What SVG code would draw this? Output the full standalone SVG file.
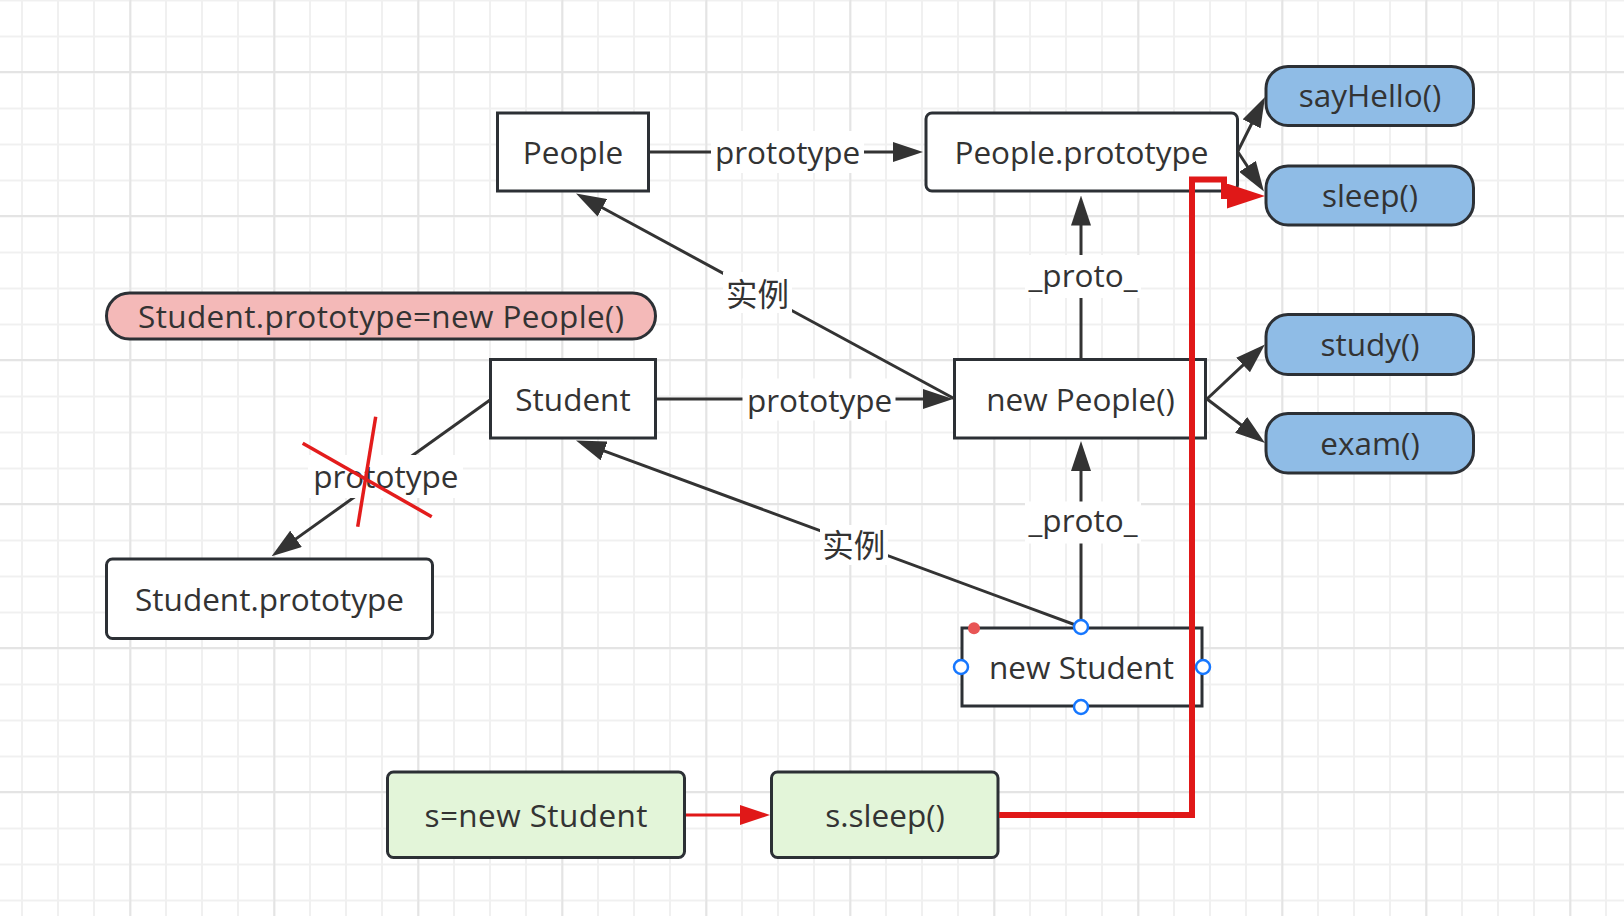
<svg xmlns="http://www.w3.org/2000/svg" width="1624" height="916" viewBox="0 0 1624 916">
<defs>
<pattern id="gridMinor" x="4" y="-17.5" width="36" height="36" patternUnits="userSpaceOnUse">
<rect x="17" y="0" width="2" height="36" fill="#f0f0f0"/>
<rect x="0" y="17" width="36" height="2" fill="#f0f0f0"/>
</pattern>
<pattern id="gridMajor" x="58.4" y="0" width="144" height="144" patternUnits="userSpaceOnUse">
<rect x="71" y="0" width="2" height="144" fill="#e4e4e4"/>
<rect x="0" y="71" width="144" height="2" fill="#e4e4e4"/>
</pattern>
<marker id="arr" markerUnits="userSpaceOnUse" viewBox="0 0 30 20" markerWidth="30" markerHeight="20" refX="1" refY="10" orient="auto">
<path d="M0,0 L30,10 L0,20 z" fill="#333333"/>
</marker>
<marker id="arrRed" markerUnits="userSpaceOnUse" viewBox="0 0 30 20" markerWidth="30" markerHeight="20" refX="1" refY="10" orient="auto">
<path d="M0,0 L30,10 L0,20 z" fill="#e01818"/>
</marker>
<marker id="arrRedBig" markerUnits="userSpaceOnUse" viewBox="0 0 38 25" markerWidth="38" markerHeight="25" refX="1" refY="12.5" orient="auto">
<path d="M0,0 L38,12.5 L0,25 z" fill="#e01818"/>
</marker>
</defs>
<style>
text{font-family:"Open Sans","Noto Sans","Noto Sans CJK SC",sans-serif;font-size:31.5px;fill:#333333;text-anchor:middle}
.box{fill:#ffffff;stroke:#2c3035;stroke-width:3}
.blue{fill:#8fbce6;stroke:#2c3035;stroke-width:3}
.pink{fill:#f4b9b8;stroke:#2c3035;stroke-width:3}
.green{fill:#e3f5d9;stroke:#2c3035;stroke-width:3}
.edge{fill:none;stroke:#333333;stroke-width:3}
.arrow{marker-end:url(#arr)}
.red{fill:none;stroke:#e01818}
.lbl{fill:#ffffff}
.cross{stroke:#e31c1c;stroke-width:3.5}
.handle{fill:#ffffff;stroke:#1677ff;stroke-width:2.5}
</style>
<rect width="1624" height="916" fill="#ffffff"/>
<rect width="1624" height="916" fill="url(#gridMinor)"/>
<rect width="1624" height="916" fill="url(#gridMajor)"/>

<g id="node-people"><rect class="box" x="497.5" y="113" width="151" height="78"/><text x="573" y="164">People</text></g>
<g id="node-people-prototype"><rect class="box" x="926" y="113" width="311.5" height="78" rx="6"/><text x="1081.5" y="163.5">People.prototype</text></g>
<g id="node-sayhello"><rect class="blue" x="1266" y="66.5" width="207.5" height="59" rx="22"/><text x="1370" y="107">sayHello()</text></g>
<g id="node-sleep"><rect class="blue" x="1266" y="166" width="207.5" height="59" rx="22"/><text x="1370" y="207">sleep()</text></g>
<g id="node-study"><rect class="blue" x="1266" y="314.5" width="207.5" height="60" rx="22"/><text x="1370" y="356">study()</text></g>
<g id="node-exam"><rect class="blue" x="1266" y="413.5" width="207.5" height="59.5" rx="22"/><text x="1370" y="455">exam()</text></g>
<g id="node-assign"><rect class="pink" x="106.5" y="293" width="549" height="46" rx="23"/><text x="381" y="328" textLength="486" lengthAdjust="spacing">Student.prototype=new People()</text></g>
<g id="node-student"><rect class="box" x="490.5" y="359.5" width="165" height="78.5"/><text x="573" y="410.5">Student</text></g>
<g id="node-new-people"><rect class="box" x="954.5" y="359.5" width="251" height="78.5"/><text x="1080.5" y="410.5">new People()</text></g>
<g id="node-student-prototype"><rect class="box" x="106.5" y="559" width="326" height="79.5" rx="6"/><text x="269.5" y="610.5">Student.prototype</text></g>
<g id="node-new-student"><rect class="box" x="962" y="628" width="240" height="78"/><text x="1081.5" y="678.5">new Student</text></g>
<g id="node-s-new-student"><rect class="green" x="387.5" y="772" width="297" height="85.5" rx="6"/><text x="536" y="826.5" textLength="223" lengthAdjust="spacing">s=new Student</text></g>
<g id="node-s-sleep"><rect class="green" x="771.5" y="772" width="226.5" height="85.5" rx="6"/><text x="885" y="826.5">s.sleep()</text></g>

<g id="connectors">
<line class="edge arrow" x1="650" y1="152" x2="894" y2="152"/>
<rect class="lbl" x="711" y="131" width="153" height="42"/>
<text x="787.5" y="164">prototype</text>

<line class="edge arrow" x1="657" y1="399" x2="924" y2="399"/>
<rect class="lbl" x="742.5" y="378.5" width="153" height="42"/>
<text x="819.5" y="411.5">prototype</text>

<line class="edge arrow" x1="1081" y1="358.5" x2="1081" y2="224.5"/>
<rect class="lbl" x="1025" y="255" width="116" height="43"/>
<text x="1083" y="287">_proto_</text>

<line class="edge arrow" x1="1081" y1="627" x2="1081" y2="470"/>
<rect class="lbl" x="1025" y="501.5" width="116" height="42"/>
<text x="1083" y="531.5">_proto_</text>

<line class="edge arrow" x1="954" y1="398.5" x2="601.5" y2="207.3"/>
<rect class="lbl" x="723" y="272" width="69" height="41"/>
<text x="757.5" y="306">实例</text>

<line class="edge arrow" x1="1081" y1="627" x2="603.2" y2="450.6"/>
<rect class="lbl" x="820" y="525" width="68" height="40"/>
<text x="853.7" y="557">实例</text>

<line class="edge arrow" x1="490" y1="400" x2="295.2" y2="539.4"/>
<rect class="lbl" x="308" y="455" width="155" height="43"/>
<text x="385.8" y="488.3">prototype</text>
<line class="cross" x1="302.7" y1="443.3" x2="431.7" y2="516.7"/>
<line class="cross" x1="375.7" y1="416.7" x2="357.7" y2="526.7"/>

<line class="edge arrow" x1="1238" y1="151" x2="1252" y2="123"/>
<line class="edge arrow" x1="1238" y1="152" x2="1248" y2="167.2"/>
<line class="edge arrow" x1="1207" y1="399" x2="1243.8" y2="364.3"/>
<line class="edge arrow" x1="1207" y1="399" x2="1241.9" y2="425.5"/>

<line class="red" stroke-width="3" x1="686" y1="815" x2="741" y2="815" marker-end="url(#arrRed)"/>
<path class="red" stroke-width="6" d="M999 815 H1192 V179.5 H1224 V196 H1228" marker-end="url(#arrRedBig)"/>
</g>

<g id="selection">
<circle cx="974" cy="628.3" r="6" fill="#e85555"/>
<circle class="handle" cx="1081" cy="627" r="7"/>
<circle class="handle" cx="961" cy="667" r="7"/>
<circle class="handle" cx="1203" cy="667" r="7"/>
<circle class="handle" cx="1081" cy="707" r="7"/>
</g>
</svg>
